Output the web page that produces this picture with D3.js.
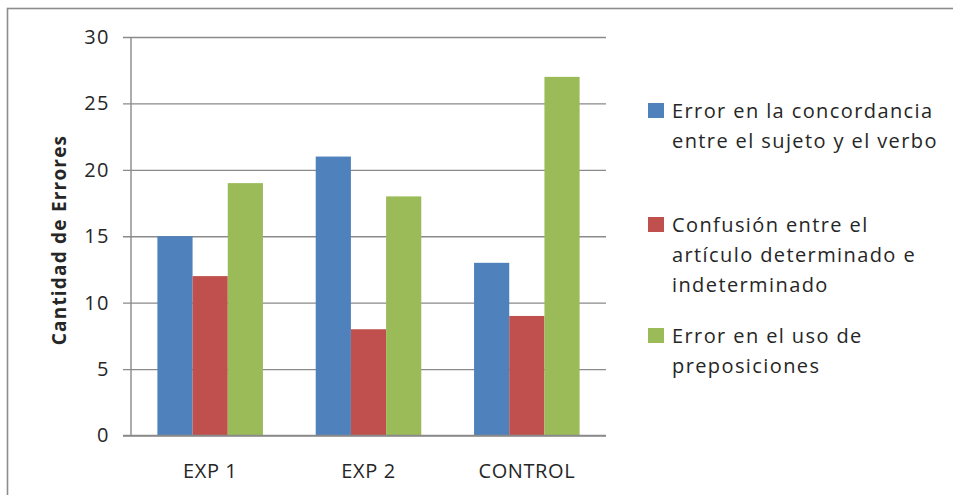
<!DOCTYPE html>
<html>
<head>
<meta charset="utf-8">
<script src="https://cdn.jsdelivr.net/npm/d3@7"></script>
<style>
  html, body { margin: 0; padding: 0; background: #fff; }
  svg { display: block; }
  text { font-family: "Open Sans", "Noto Sans", sans-serif; fill: #262626; }
</style>
</head>
<body>
<svg id="chart" width="953" height="495"></svg>
<script>
// Error counts per group and error type
const categories = ["EXP 1", "EXP 2", "CONTROL"];
const seriesNames = [
  "Error en la concordancia entre el sujeto y el verbo",
  "Confusión entre el artículo determinado e indeterminado",
  "Error en el uso de preposiciones"
];
const legendLines = [
  ["Error en la concordancia", "entre el sujeto y el verbo"],
  ["Confusión entre el", "artículo determinado e", "indeterminado"],
  ["Error en el uso de", "preposiciones"]
];
const concordancia = [15, 21, 13];
const articulo = [12, 8, 9];
const preposiciones = [19, 18, 27];
const yTicks = [0, 5, 10, 15, 20, 25, 30];
const yTitle = "Cantidad de Errores";
const colors = ["#4F81BD", "#C0504D", "#9BBB59"];

const seriesValues = [concordancia, articulo, preposiciones];

const svg = d3.select("#chart");

// Chart area frame
svg.append("rect")
  .attr("x", 7.5).attr("y", 8.5)
  .attr("width", 980).attr("height", 520)
  .attr("fill", "#fff")
  .attr("stroke", "#8c8c8c")
  .attr("stroke-width", 1.6);

const plot = { left: 131, right: 606, top: 37, bottom: 435.5 };

const y = d3.scaleLinear().domain([0, 30]).range([plot.bottom, plot.top]);
const x0 = d3.scaleBand().domain(categories)
  .range([plot.left, plot.right])
  .paddingInner(1 / 3).paddingOuter(1 / 6);
const x1 = d3.scaleBand().domain(d3.range(seriesNames.length))
  .range([0, x0.bandwidth()]);

// Horizontal gridlines with left tick marks
const yAxis = d3.axisLeft(y).tickValues(yTicks).tickSize(plot.right - plot.left + 8).tickPadding(13).tickSizeOuter(0);
const gy = svg.append("g")
  .attr("transform", `translate(${plot.right},0)`)
  .call(yAxis);
gy.select(".domain").remove();
gy.selectAll(".tick line").attr("stroke", "#8a8a8a").attr("stroke-width", 1.4);
gy.selectAll(".tick text")
  .attr("font-size", 20)
  .attr("letter-spacing", 1.5)
  .style("font-family", "'Open Sans', sans-serif")
  .attr("fill", "#262626");

// Vertical axis line
svg.append("line")
  .attr("x1", plot.left).attr("x2", plot.left)
  .attr("y1", plot.top).attr("y2", plot.bottom)
  .attr("stroke", "#8a8a8a").attr("stroke-width", 1.4);

// Bars
const groups = svg.append("g").selectAll("g")
  .data(categories)
  .join("g")
  .attr("transform", d => `translate(${x0(d)},0)`);

groups.selectAll("rect")
  .data((c, ci) => seriesValues.map((vals, si) => ({ si, v: vals[ci] })))
  .join("rect")
  .attr("x", d => x1(d.si))
  .attr("width", x1.bandwidth())
  .attr("y", d => y(d.v))
  .attr("height", d => y(0) - y(d.v))
  .attr("fill", d => colors[d.si]);

// Category axis
const xAxis = d3.axisBottom(x0).tickSize(0).tickPadding(0).tickSizeOuter(0);
const gx = svg.append("g")
  .attr("transform", `translate(0,${plot.bottom})`)
  .call(xAxis);
gx.select(".domain").remove();
gx.selectAll(".tick text")
  .attr("font-size", 20)
  .attr("letter-spacing", 0.6)
  .attr("dy", null)
  .attr("y", 42)
  .style("font-family", "'Open Sans', sans-serif")
  .attr("fill", "#262626");

// Baseline
svg.append("line")
  .attr("x1", plot.left - 8).attr("x2", plot.right)
  .attr("y1", plot.bottom).attr("y2", plot.bottom)
  .attr("stroke", "#8a8a8a").attr("stroke-width", 1.4);

// Vertical axis title
svg.append("text")
  .attr("transform", `translate(66,240) rotate(-90)`)
  .attr("text-anchor", "middle")
  .attr("font-size", 19)
  .attr("letter-spacing", 1.2)
  .attr("font-weight", "bold")
  .text(yTitle);

// Legend
const legendTop = [118, 232, 343];
const legend = svg.append("g").selectAll("g")
  .data(legendLines)
  .join("g")
  .attr("transform", (d, i) => `translate(648,${legendTop[i]})`);

legend.append("rect")
  .attr("x", 0).attr("y", -15)
  .attr("width", 16).attr("height", 15)
  .attr("fill", (d, i) => colors[i]);

legend.append("text")
  .attr("font-size", 20)
  .attr("letter-spacing", 1.4)
  .selectAll("tspan")
  .data(d => d)
  .join("tspan")
  .attr("x", 24)
  .attr("y", (d, i) => i * 30)
  .text(d => d);
</script>
</body>
</html>
